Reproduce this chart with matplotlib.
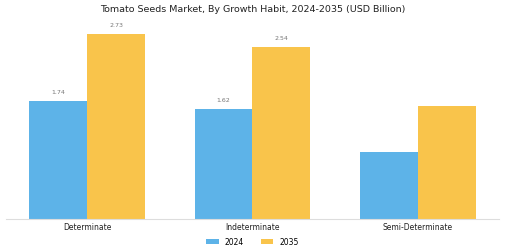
import numpy as np
import matplotlib.pyplot as plt

categories = ['Determinate', 'Indeterminate', 'Semi-Determinate']
values_2024 = [1.74, 1.62, 0.99]
values_2035 = [2.73, 2.54, 1.67]
labels_2024 = ['1.74', '1.62', '']
labels_2035 = ['2.73', '2.54', '']

fig = plt.figure(figsize=(5.05, 2.53), dpi=100)
ax = fig.add_axes([6/505, 33/253, 493/505, 200/253])

x = np.arange(len(categories))
w = 0.35
b1 = ax.bar(x - w/2, values_2024, w, color='#5DB3E8', label='2024')
b2 = ax.bar(x + w/2, values_2035, w, color='#F9C44B', label='2035')

# value labels only on the first two groups
for rect, lab in zip(b1, labels_2024):
    if lab:
        ax.text(rect.get_x() + rect.get_width()/2, rect.get_height() + 0.1, lab,
                ha='center', va='bottom', fontsize=4.5, color='#777777')
for rect, lab in zip(b2, labels_2035):
    if lab:
        ax.text(rect.get_x() + rect.get_width()/2, rect.get_height() + 0.1, lab,
                ha='center', va='bottom', fontsize=4.5, color='#777777')

ax.set_xlim(-0.49, 2.49)
ax.set_ylim(0, 200/67.8)
ax.set_xticks(x)
ax.set_xticklabels(categories, fontsize=5.5, color='#222222')
ax.tick_params(axis='x', length=0, pad=2)
ax.set_yticks([])
for s in ['top', 'right', 'left']:
    ax.spines[s].set_visible(False)
ax.spines['bottom'].set_color('#dddddd')
ax.spines['bottom'].set_linewidth(0.8)

fig.suptitle('Tomato Seeds Market, By Growth Habit, 2024-2035 (USD Billion)',
             fontsize=6.8, color='#222222', y=0.98)
fig.legend(loc='lower center', bbox_to_anchor=(0.5, -0.005), ncol=2, frameon=False,
           fontsize=5.5, handlelength=1.6, handleheight=0.7, columnspacing=2.2)

fig.savefig('out.png', dpi=100)
